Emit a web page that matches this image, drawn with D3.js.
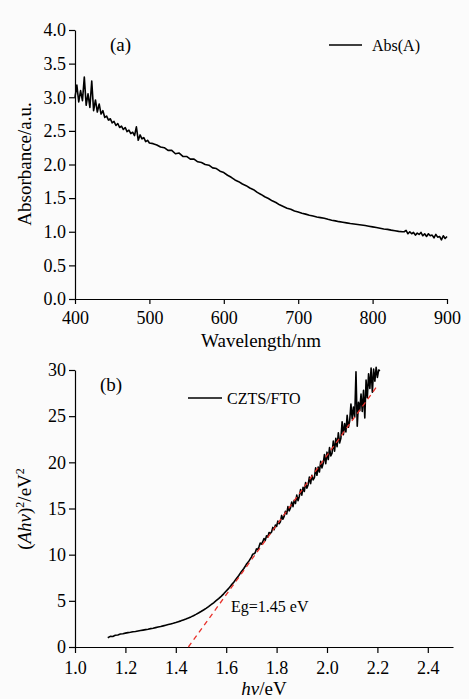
<!DOCTYPE html>
<html>
<head>
<meta charset="utf-8">
<script src="https://cdn.jsdelivr.net/npm/d3@7/dist/d3.min.js"></script>
<style>
  body { margin: 0; background: #fbfbfb; }
  svg { display: block; }
  text { font-family: "Liberation Serif", "Times New Roman", serif; fill: #000; }
</style>
</head>
<body>
<div id="chart"></div>
<script>
// panel (a): absorbance spectrum (denser sampling where the trace is noisy)
var wavelength = [400,402.5,405,407.5,410,412.5,415,417.5,420,422.5,425,427.5,430,432.5,435,437.5,440,442.5,445,447.5,
    450,452.5,455,457.5,460,462.5,465,467.5,470,472.5,475,477.5,480,482.5,485,487.5,490,492.5,495,497.5,500,
    505,510,515,520,525,530,535,540,545,550,555,560,565,570,575,580,585,590,595,
    600,605,610,615,620,625,630,635,640,645,650,655,660,665,670,675,680,685,690,695,
    700,705,710,715,720,725,730,735,740,745,750,755,760,765,770,775,780,785,790,795,
    800,805,810,815,820,825,830,835,840,842.5,845,847.5,850,852.5,855,857.5,860,862.5,865,867.5,
    870,872.5,875,877.5,880,882.5,885,887.5,890,892.5,895,897.5,900];
var absorbance = [3.00,3.18,2.93,3.10,2.95,3.30,2.88,3.05,2.85,3.24,2.80,2.96,2.78,2.90,2.75,2.80,2.70,2.72,2.66,2.68,
    2.62,2.64,2.58,2.61,2.55,2.57,2.52,2.55,2.49,2.51,2.46,2.48,2.43,2.56,2.36,2.44,2.38,2.40,2.34,2.36,2.32,
    2.31,2.29,2.26,2.25,2.21,2.21,2.16,2.17,2.12,2.12,2.08,2.08,2.04,2.03,2.00,1.99,1.95,1.94,1.90,
    1.88,1.84,1.81,1.77,1.745,1.71,1.685,1.65,1.625,1.585,1.555,1.52,1.495,1.46,1.435,1.40,1.375,1.35,1.335,1.31,
    1.295,1.275,1.262,1.245,1.233,1.22,1.21,1.20,1.185,1.172,1.162,1.15,1.142,1.132,1.122,1.115,1.108,1.10,1.092,1.082,
    1.072,1.062,1.052,1.042,1.035,1.024,1.015,1.006,1.00,1.00,1.02,0.97,1.00,0.97,0.99,0.95,0.98,0.96,0.99,0.94,
    0.97,0.93,0.97,0.94,0.95,0.91,0.96,0.92,0.93,0.88,0.94,0.90,0.93];

// panel (b): Tauc plot
var photonEnergy = [1.13,1.14,1.15,1.16,1.17,1.18,1.19,1.20,1.21,1.22,1.23,1.24,1.25,1.26,1.27,1.28,1.29,
    1.30,1.31,1.32,1.33,1.34,1.35,1.36,1.37,1.38,1.39,1.40,1.41,1.42,1.43,1.44,1.45,1.46,1.47,1.48,1.49,
    1.50,1.51,1.52,1.53,1.54,1.55,1.56,1.57,1.58,1.59,1.60,1.61,1.62,1.63,1.64,1.65,1.66,1.67,1.68,1.69,
    1.700,1.705,1.710,1.715,1.720,1.725,1.730,1.735,1.740,1.745,1.750,1.755,1.760,1.765,1.770,1.775,1.780,1.785,1.790,1.795,
    1.800,1.805,1.810,1.815,1.820,1.825,1.830,1.835,1.840,1.845,1.850,1.855,1.860,1.865,1.870,1.875,1.880,1.885,1.890,1.895,
    1.900,1.905,1.910,1.915,1.920,1.925,1.930,1.935,1.940,1.945,1.950,1.955,1.960,1.965,1.970,1.975,1.980,1.985,1.990,1.995,
    2.000,2.005,2.010,2.015,2.020,2.025,2.030,2.035,2.040,2.045,2.050,2.055,2.060,2.065,2.070,2.075,2.080,2.085,2.090,2.095,
    2.100,2.105,2.110,2.115,2.120,2.125,2.130,2.135,2.140,2.145,2.150,2.155,2.160,2.165,2.170,2.175,2.180,2.185,2.190,2.195,
    2.200,2.205,2.210];
var ahv2 = [1.00,1.15,1.14,1.27,1.30,1.40,1.44,1.50,1.56,1.59,1.65,1.68,1.73,1.78,1.83,1.88,1.93,
    1.99,2.04,2.10,2.16,2.22,2.29,2.36,2.43,2.50,2.57,2.65,2.74,2.83,2.93,3.03,3.14,3.26,3.39,3.53,3.68,
    3.84,4.01,4.19,4.38,4.58,4.79,5.01,5.24,5.49,5.76,6.06,6.35,6.70,7.02,7.40,7.75,8.16,8.50,8.95,9.30,
    9.74,10.05,10.10,10.20,10.62,10.55,10.85,11.25,11.15,11.40,11.75,11.55,12.05,11.90,12.40,12.30,12.45,12.95,12.70,13.20,
    13.05,13.65,13.35,13.55,14.25,13.85,14.15,14.70,14.40,15.20,14.75,15.05,15.70,15.20,15.90,15.55,16.45,15.85,16.30,17.05,
    16.45,17.30,16.85,17.80,17.20,17.55,18.40,17.70,18.60,18.10,18.35,19.40,18.60,19.50,18.95,20.10,19.40,19.90,20.85,19.85,
    21.10,20.30,21.60,20.70,21.00,22.30,21.20,22.60,21.70,23.20,22.10,22.60,24.40,23.00,24.20,23.30,25.10,23.80,24.50,26.30,
    24.70,26.00,24.90,29.80,23.90,26.50,25.60,27.40,25.50,27.80,24.80,28.90,27.00,29.60,28.00,30.20,27.60,30.10,28.80,30.30,
    29.20,30.00,29.90];

// linear fit used for the band gap
var fitX = [1.45, 2.20];
var fitY = [0, 28.3];

var absTicksX = [400, 500, 600, 700, 800, 900];
var absTicksY = [0, 0.5, 1.0, 1.5, 2.0, 2.5, 3.0, 3.5, 4.0];
var taucTicksX = [1.0, 1.2, 1.4, 1.6, 1.8, 2.0, 2.2, 2.4];
var taucTicksY = [0, 5, 10, 15, 20, 25, 30];

var serif = "'Liberation Serif', 'Times New Roman', serif";

var svg = d3.select("#chart")
    .append("svg")
    .attr("width", 469)
    .attr("height", 699);

function styleAxis(g) {
    g.attr("font-family", serif).attr("font-size", 18);
    g.selectAll("path").attr("stroke", "#000").attr("stroke-width", 1.2);
    g.selectAll("line").attr("stroke", "#000").attr("stroke-width", 1.2);
    g.selectAll("text")
        .style("font-family", serif)
        .style("font-size", "18px")
        .attr("fill", "#000");
}

function drawLine(xs, ys, x, y) {
    return d3.line()
        .x(function(d) { return x(d[0]); })
        .y(function(d) { return y(d[1]); })(xs.map(function(d, i) { return [d, ys[i]]; }));
}

// ---------- panel (a) ----------
var xa = d3.scaleLinear().domain([400, 900]).range([75, 447]);
var ya = d3.scaleLinear().domain([0, 4]).range([299, 30]);

svg.append("g")
    .attr("transform", "translate(0,299)")
    .call(d3.axisBottom(xa).tickValues(absTicksX).tickSize(5).tickSizeOuter(0).tickPadding(7))
    .call(styleAxis);

svg.append("g")
    .attr("transform", "translate(75,0)")
    .call(d3.axisLeft(ya).tickValues(absTicksY).tickFormat(d3.format(".1f")).tickSize(6).tickSizeOuter(0).tickPadding(3))
    .call(styleAxis);

svg.append("path")
    .attr("fill", "none")
    .attr("stroke", "#000")
    .attr("stroke-width", 1.6)
    .attr("stroke-linejoin", "round")
    .attr("d", drawLine(wavelength, absorbance, xa, ya));

svg.append("text").attr("x", 110).attr("y", 51).style("font-size", "19px").text("(a)");

svg.append("line").attr("x1", 329).attr("x2", 362).attr("y1", 45).attr("y2", 45)
    .attr("stroke", "#000").attr("stroke-width", 1.3);
svg.append("text").attr("x", 372).attr("y", 51).style("font-size", "16px").text("Abs(A)");

svg.append("text")
    .attr("x", 261).attr("y", 347)
    .attr("text-anchor", "middle")
    .style("font-size", "19px")
    .text("Wavelength/nm");

svg.append("text")
    .attr("transform", "translate(31,164)rotate(-90)")
    .attr("text-anchor", "middle")
    .style("font-size", "19px")
    .text("Absorbance/a.u.");

// ---------- panel (b) ----------
var xb = d3.scaleLinear().domain([1.0, 2.5]).range([75, 453]);
var yb = d3.scaleLinear().domain([0, 30]).range([647, 370]);

svg.append("g")
    .attr("transform", "translate(0,647)")
    .call(d3.axisBottom(xb).tickValues(taucTicksX).tickFormat(d3.format(".1f")).tickSize(6).tickSizeOuter(0).tickPadding(8))
    .call(styleAxis);

svg.append("g")
    .attr("transform", "translate(75,0)")
    .call(d3.axisLeft(yb).tickValues(taucTicksY).tickSize(6).tickSizeOuter(0).tickPadding(3))
    .call(styleAxis);

svg.append("path")
    .attr("fill", "none")
    .attr("stroke", "#000")
    .attr("stroke-width", 1.6)
    .attr("stroke-linejoin", "round")
    .attr("d", drawLine(photonEnergy, ahv2, xb, yb));

svg.append("path")
    .attr("fill", "none")
    .attr("stroke", "#e8302a")
    .attr("stroke-width", 1.3)
    .attr("stroke-dasharray", "5,4")
    .attr("d", drawLine(fitX, fitY, xb, yb));

svg.append("text").attr("x", 100).attr("y", 391).style("font-size", "19px").text("(b)");

svg.append("line").attr("x1", 188).attr("x2", 222).attr("y1", 398).attr("y2", 398)
    .attr("stroke", "#000").attr("stroke-width", 1.3);
svg.append("text").attr("x", 227).attr("y", 404).style("font-size", "16px").text("CZTS/FTO");

svg.append("text").attr("x", 231).attr("y", 612).style("font-size", "16px").text("Eg=1.45 eV");

var xlab = svg.append("text")
    .attr("x", 264).attr("y", 695)
    .attr("text-anchor", "middle")
    .style("font-size", "19px");
xlab.append("tspan").style("font-style", "italic").text("hν");
xlab.append("tspan").text("/eV");

var ylab = svg.append("text")
    .attr("transform", "translate(31,509)rotate(-90)")
    .attr("text-anchor", "middle")
    .style("font-size", "19px");
ylab.append("tspan").text("(");
ylab.append("tspan").style("font-style", "italic").text("Ahν");
ylab.append("tspan").text(")");
ylab.append("tspan").attr("dy", -7).style("font-size", "12px").text("2");
ylab.append("tspan").attr("dy", 7).text("/eV");
ylab.append("tspan").attr("dy", -7).style("font-size", "12px").text("2");
</script>
</body>
</html>
